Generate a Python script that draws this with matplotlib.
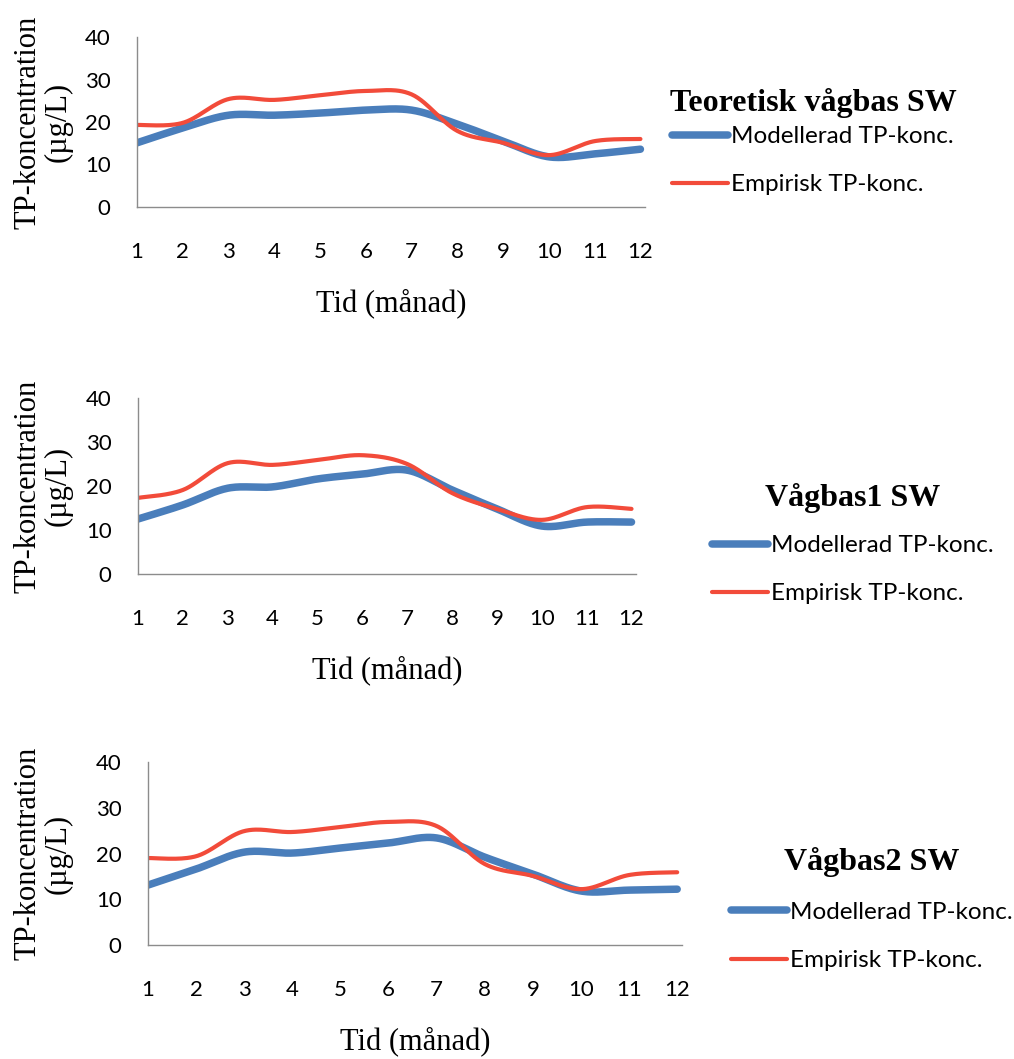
import numpy as np
import matplotlib
matplotlib.use("Agg")
from matplotlib import pyplot as plt

# Monthly TP concentration (ug/L), three wave-base scenarios
months = np.arange(1, 13)

teor_model = [15.1, 18.6, 21.6, 21.6, 22.1, 22.8, 22.8, 19.5, 15.5, 11.8, 12.5, 13.6]
teor_emp = [19.3, 19.8, 25.4, 25.2, 26.3, 27.3, 26.5, 17.9, 15.1, 12.2, 15.5, 16.0]

vb1_model = [12.5, 15.7, 19.5, 19.8, 21.6, 22.7, 23.6, 19.1, 14.8, 10.9, 11.8, 11.8]
vb1_emp = [17.3, 19.1, 25.2, 24.8, 25.9, 27.0, 25.0, 18.4, 14.8, 12.3, 15.2, 14.8]

vb2_model = [13.1, 16.6, 20.3, 20.1, 21.2, 22.3, 23.4, 19.2, 15.5, 11.8, 12.0, 12.2]
vb2_emp = [19.0, 19.4, 24.9, 24.7, 25.8, 26.9, 26.0, 17.7, 15.1, 12.2, 15.3, 15.9]

titles = ["Teoretisk vågbas SW", "Vågbas1 SW", "Vågbas2 SW"]
series = [(teor_model, teor_emp), (vb1_model, vb1_emp), (vb2_model, vb2_emp)]

BLUE = "#4A7EBB"
RED = "#F24B3A"
SANS = ["Lato", "DejaVu Sans"]
SERIF = ["Liberation Serif", "DejaVu Serif"]


def smooth(x, y, n=30):
    # Catmull-Rom style bezier through the points (spreadsheet "smoothed line")
    x = np.asarray(x, float)
    y = np.asarray(y, float)
    px = np.concatenate([[x[0]], x, [x[-1]]])
    py = np.concatenate([[y[0]], y, [y[-1]]])
    xs, ys = [], []
    t = np.linspace(0, 1, n)
    for i in range(1, len(px) - 2):
        p0 = np.array([px[i], py[i]])
        p3 = np.array([px[i + 1], py[i + 1]])
        c1 = p0 + (np.array([px[i + 1], py[i + 1]]) - np.array([px[i - 1], py[i - 1]])) / 6
        c2 = p3 - (np.array([px[i + 2], py[i + 2]]) - np.array([px[i], py[i]])) / 6
        b = ((1 - t) ** 3)[:, None] * p0 + (3 * (1 - t) ** 2 * t)[:, None] * c1 \
            + (3 * (1 - t) * t ** 2)[:, None] * c2 + (t ** 3)[:, None] * p3
        xs.append(b[:, 0])
        ys.append(b[:, 1])
    return np.concatenate(xs), np.concatenate(ys)


W, H = 1014, 1059
fig = plt.figure(figsize=(W / 100, H / 100), dpi=100)

# axes boxes in pixels: left, top, right, bottom
boxes = [(137, 37, 645, 207), (138, 398, 636, 574), (148, 762, 682, 945)]
legend_pos = [(813, 66), (853, 461), (872, 825)]
title_gap = [6, 16, 18]
ylabel_x = [43, 43, 43]

for k, (l, t, r, b) in enumerate(boxes):
    ax = fig.add_axes([l / W, 1 - b / H, (r - l) / W, (b - t) / H])
    model, emp = series[k]
    sx, sy = smooth(months, model)
    ax.plot(sx, sy, color=BLUE, lw=5.4, solid_capstyle="round", label="Modellerad TP-konc.")
    sx, sy = smooth(months, emp)
    ax.plot(sx, sy, color=RED, lw=3.0, solid_capstyle="round", label="Empirisk TP-konc.")

    ax.set_xlim(1, 12.1)
    ax.set_ylim(0, 40)
    ax.set_xticks(months)
    ax.set_yticks([0, 10, 20, 30, 40])
    for s in ["top", "right"]:
        ax.spines[s].set_visible(False)
    for s in ["left", "bottom"]:
        ax.spines[s].set_color("#8c8c8c")
        ax.spines[s].set_linewidth(1.0)
    ax.tick_params(axis="both", length=0, labelsize=16)
    ax.tick_params(axis="x", pad=25)
    ax.tick_params(axis="y", pad=19)
    for lab in ax.get_xticklabels() + ax.get_yticklabels():
        lab.set_family(SANS)

    ax.set_xlabel("Tid (månad)", family=SERIF, fontsize=22, labelpad=19)
    fig.text(ylabel_x[k] / W, 1 - (t + b) / 2 / H, "TP-koncentration\n(µg/L)",
             rotation=90, ha="center", va="center", family=SERIF, fontsize=22,
             multialignment="center", linespacing=1.05)

    lx, ly = legend_pos[k]
    leg = ax.legend(loc="upper center", bbox_to_anchor=(lx / W, 1 - ly / H),
                    bbox_transform=fig.transFigure, frameon=False,
                    title=titles[k],
                    title_fontproperties={"family": SERIF, "weight": "bold", "size": 23},
                    prop={"family": SANS, "size": 17.5},
                    handlelength=2.3, handletextpad=0.15, labelspacing=1.12)
    leg._legend_box.sep = title_gap[k]

plt.savefig("out.png", dpi=100)
